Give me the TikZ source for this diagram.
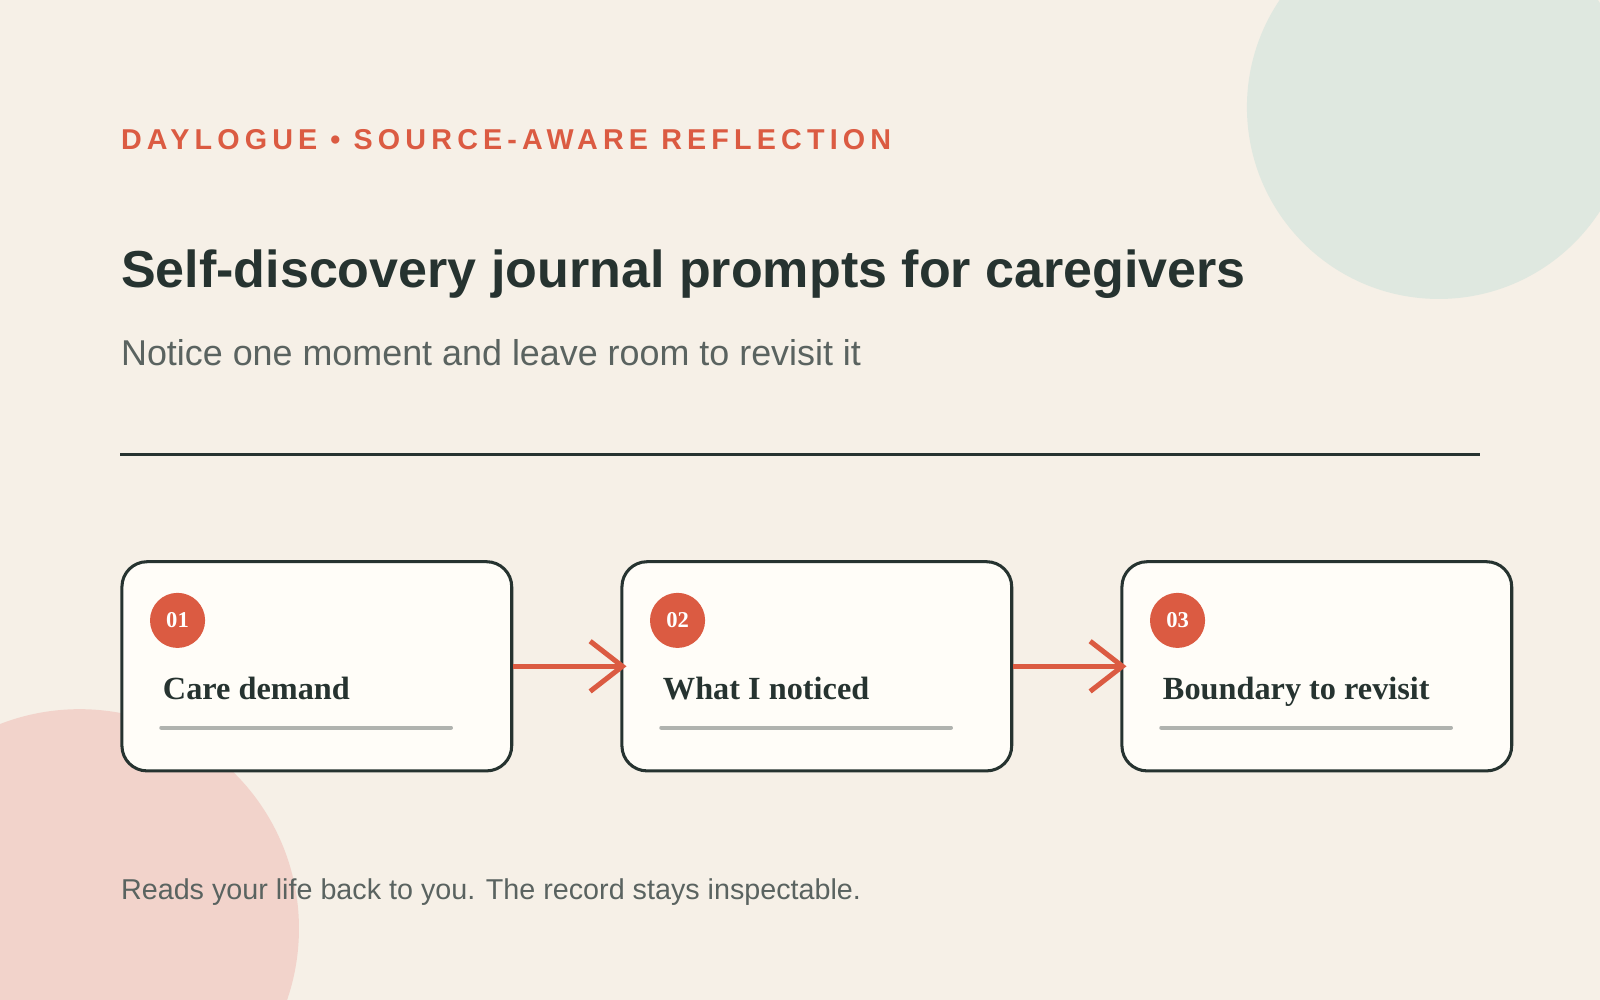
\documentclass[tikz,border=0pt]{standalone}
\usepackage{fontspec}
\setmainfont{Liberation Serif}
\setsansfont{Liberation Sans}
\newfontfamily\hdrfont[LetterSpace=18]{Liberation Sans}
\usetikzlibrary{arrows.meta}
\definecolor{bg}{HTML}{F6F0E7}
\definecolor{mint}{HTML}{DFE8E0}
\definecolor{blush}{HTML}{F2D3CB}
\definecolor{accent}{HTML}{DB5B42}
\definecolor{ink}{HTML}{263330}
\definecolor{muted}{HTML}{5A6360}
\definecolor{card}{HTML}{FFFDF8}
\definecolor{rule}{HTML}{B0B3AF}
\begin{document}
\begin{tikzpicture}[x=0.01cm,y=-0.01cm,
  card/.style={draw=ink,line width=0.85pt,fill=card,rounded corners=7pt,minimum width=382*0.01cm,minimum height=205*0.01cm,inner sep=0pt},
  badge/.style={circle,fill=accent,minimum size=54*0.01cm,inner sep=0pt,text=white,font=\bfseries\fontsize{6.3}{7}\selectfont},
  lbl/.style={anchor=base west,inner sep=0pt,text=ink,font=\bfseries\fontsize{9}{10}\selectfont},
  uline/.style={rule,line width=1.1pt,line cap=round},
  flow/.style={accent,line width=1.4pt,-{Straight Barb[length=9pt,width=14pt,line width=1.4pt]},shorten >=-6*0.01cm}]
\useasboundingbox (0,0) rectangle (1568,980);
\fill[bg] (0,0) rectangle (1568,980);
\begin{scope}
\clip (0,0) rectangle (1568,980);
\fill[mint] (1410,105) circle (188);
\fill[blush] (78,910) circle (215);
\end{scope}
\node[anchor=base west,inner sep=0pt,text=accent,font=\hdrfont\bfseries\fontsize{8}{10}\selectfont] (hdr) at (118,147) {DAYLOGUE • SOURCE-AWARE REFLECTION};
\node[anchor=base west,inner sep=0pt,text=ink,font=\sffamily\bfseries\fontsize{14.5}{17}\selectfont] (title) at (118,282) {Self-discovery journal prompts for caregivers};
\node[anchor=base west,inner sep=0pt,text=muted,font=\sffamily\fontsize{10}{12}\selectfont] (sub) at (118,358) {Notice one moment and leave room to revisit it};
\coordinate (r1) at (118,445); \coordinate (r2) at (1450,445);
\draw[ink,line width=0.85pt] (r1) -- (r2);
\foreach \i/\x/\n/\t in {1/118/01/Care demand,2/608/02/What I noticed,3/1098/03/Boundary to revisit}{
  \node[card,anchor=north west] (c\i) at (\x,549) {};
  \node[badge] (b\i) at (\x+56,608) {\n};
  \node[lbl] (l\i) at (\x+41,686) {\t};
  \coordinate (u\i a) at (\x+40,713); \coordinate (u\i b) at (\x+324,713);
  \draw[uline] (u\i a) -- (u\i b);
}
\draw[flow] (c1.east) -- (c2.west);
\draw[flow] (c2.east) -- (c3.west);
\node[anchor=base west,inner sep=0pt,text=muted,font=\sffamily\fontsize{8}{10}\selectfont] (foot) at (118,882) {Reads your life back to you. The record stays inspectable.};
\end{tikzpicture}
\end{document}
